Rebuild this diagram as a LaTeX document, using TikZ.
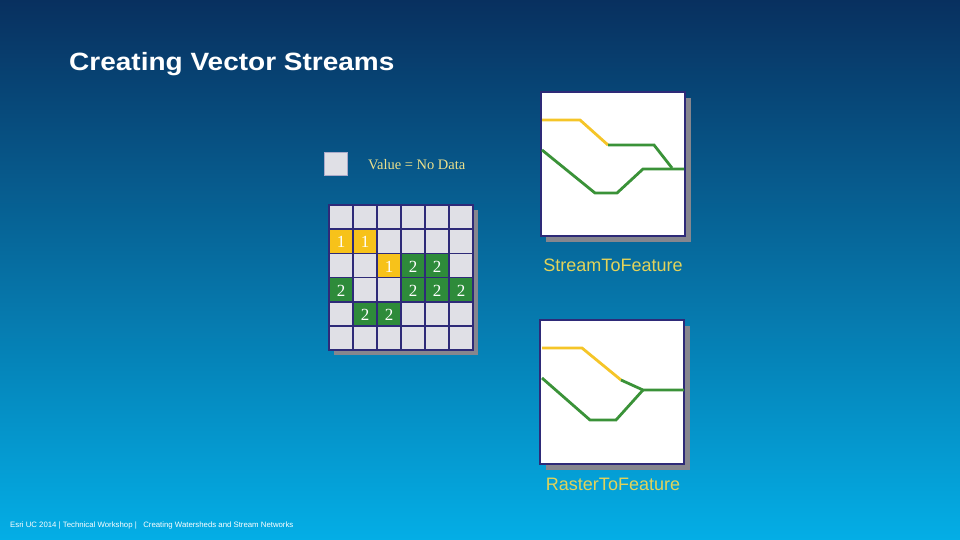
\documentclass[tikz,border=0pt]{standalone}
\usepackage{fontspec}
\setsansfont{Liberation Sans}
\setmainfont{Liberation Serif}
\begin{document}
\begin{tikzpicture}[x=1pt,y=-1pt,
  cellbox/.style={draw=gridc,line width=1.6pt,fill=cellc},
  ylw/.style={fill=yelc},
  grn/.style={fill=grnc},
  num/.style={font=\rmfamily\fontsize{17}{17}\selectfont,text=white},
  yline/.style={draw=yelline,line width=2.8pt},
  gline/.style={draw=grnline,line width=2.8pt},
  panel/.style={draw=gridc,line width=1.5pt,fill=white},
  shad/.style={fill=shadc},
  lab/.style={font=\sffamily\fontsize{18}{18}\selectfont,text=labc}]
\definecolor{gridc}{HTML}{2E2A78}
\definecolor{cellc}{HTML}{E0E0E6}
\definecolor{yelc}{HTML}{F7C21A}
\definecolor{grnc}{HTML}{2E8B3A}
\definecolor{yelline}{HTML}{F5C528}
\definecolor{grnline}{HTML}{3A9238}
\definecolor{shadc}{HTML}{86868E}
\definecolor{labc}{HTML}{E2D35A}
\definecolor{bgtop}{HTML}{08305F}
\definecolor{bgbot}{HTML}{04AEE6}
\shade[top color=bgtop,bottom color=bgbot] (0,0) rectangle (960,540);
\useasboundingbox (0,0) rectangle (960,540);
\node[anchor=west,inner sep=0pt,font=\sffamily\bfseries\fontsize{25}{25}\selectfont,text=white,xscale=1.12] (title) at (69,64) {Creating Vector Streams};
% legend
\node[draw=gridc!40,fill=cellc,minimum size=23pt,inner sep=0pt] (leg) at (335.5,164) {};
\node[anchor=west,inner sep=0pt,font=\rmfamily\fontsize{14.5}{14.5}\selectfont,text=labc!70!white] (legt) at (368,165) {Value = No Data};
% grid shadow
\fill[shadc] (334,210) rectangle (478,355);
\foreach \c in {0,...,5}{\foreach \r in {0,...,5}{
  \draw[cellbox] (329+24*\c,205+24.2*\r) rectangle ++(24,24.2);}}
\newcommand{\cellat}[4]{\draw[cellbox,#3] (329+24*#1,205+24.2*#2) rectangle ++(24,24.2);
  \node[num] at (341+24*#1,218+24.2*#2) {#4};}
\cellat{0}{1}{ylw}{1}\cellat{1}{1}{ylw}{1}
\cellat{2}{2}{ylw}{1}\cellat{3}{2}{grn}{2}\cellat{4}{2}{grn}{2}
\cellat{0}{3}{grn}{2}\cellat{3}{3}{grn}{2}\cellat{4}{3}{grn}{2}\cellat{5}{3}{grn}{2}
\cellat{1}{4}{grn}{2}\cellat{2}{4}{grn}{2}
% top panel
\fill[shad] (546,98) rectangle (691,242);
\draw[panel] (541,92) rectangle (685,236);
\draw[yline] (542,120) -- (580,120) -- (608,145);
\draw[gline] (608,145) -- (654,145) -- (672,168);
\draw[gline] (542,150) -- (595,193) -- (617,193) -- (643,169) -- (684,169);
\node[lab] (l1) at (613,265) {StreamToFeature};
% bottom panel
\fill[shad] (546,326) rectangle (690,470);
\draw[panel] (540,320) rectangle (684,464);
\draw[yline] (542,348) -- (582,348) -- (621,380);
\draw[gline] (621,380) -- (643,390) -- (684,390);
\draw[gline] (542,378) -- (590,420) -- (616,420) -- (643,390);
\node[lab] (l2) at (613,484) {RasterToFeature};
\node[anchor=west,inner sep=0pt,font=\sffamily\fontsize{7.8}{7.8}\selectfont,text=white] (foot) at (10,525) {Esri UC 2014 | Technical Workshop | \ \ Creating Watersheds and Stream Networks};
\end{tikzpicture}
\end{document}
